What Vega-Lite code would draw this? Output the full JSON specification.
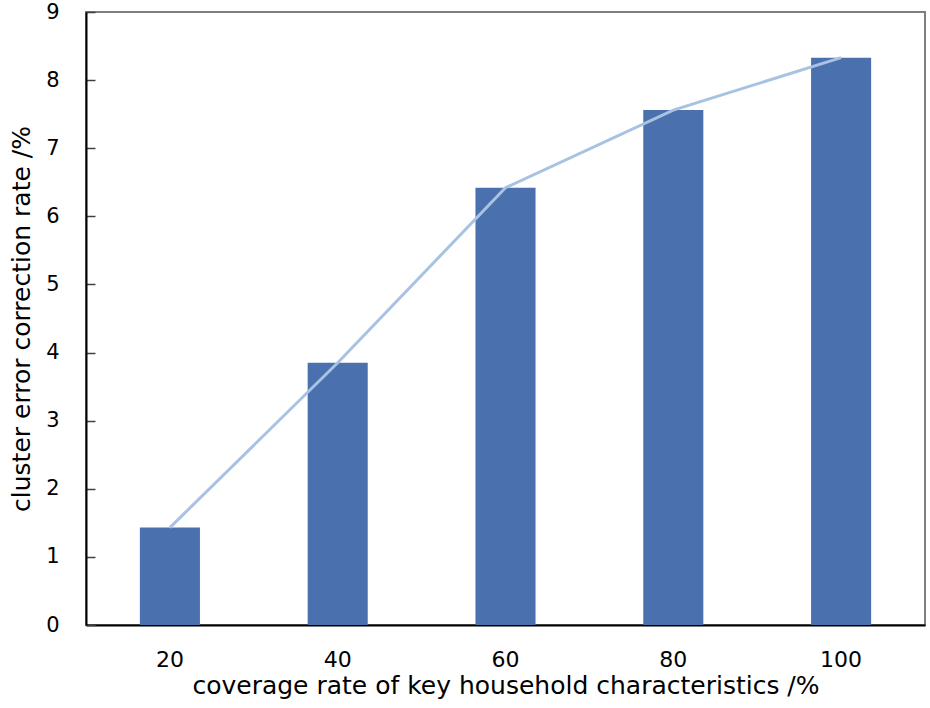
{
  "$schema": "https://vega.github.io/schema/vega-lite/v6.json",
  "width": 839,
  "height": 613,
  "autosize": {"type": "none"},
  "padding": {"left": 86, "top": 12, "right": 5, "bottom": 83},
  "background": "white",
  "config": {
    "view": {"stroke": "#7f7f7f", "strokeWidth": 2},
    "font": "DejaVu Sans"
  },
  "data": {
    "values": [
      {"coverage": "20", "rate": 1.43},
      {"coverage": "40", "rate": 3.85},
      {"coverage": "60", "rate": 6.42},
      {"coverage": "80", "rate": 7.56},
      {"coverage": "100", "rate": 8.33}
    ]
  },
  "encoding": {
    "x": {
      "field": "coverage",
      "type": "ordinal",
      "sort": null,
      "scale": {"paddingInner": 0.642, "paddingOuter": 0.321},
      "axis": {
        "title": "coverage rate of key household characteristics /%",
        "titleFont": "DejaVu Sans",
        "titleFontSize": 25,
        "titleFontWeight": "normal",
        "titleColor": "#000000",
        "titlePadding": 3,
        "labelAngle": 0,
        "labelFont": "DejaVu Sans",
        "labelFontSize": 22,
        "labelColor": "#000000",
        "labelPadding": 24,
        "ticks": false,
        "domainColor": "#000000",
        "domainWidth": 2
      }
    },
    "y": {
      "field": "rate",
      "type": "quantitative",
      "scale": {"domain": [0, 9], "nice": false},
      "axis": {
        "title": "cluster error correction rate /%",
        "titleFont": "DejaVu Sans",
        "titleFontSize": 25,
        "titleFontWeight": "normal",
        "titleColor": "#000000",
        "titlePadding": 11,
        "values": [0, 1, 2, 3, 4, 5, 6, 7, 8, 9],
        "labelFont": "DejaVu Sans",
        "labelFontSize": 21,
        "labelColor": "#000000",
        "labelPadding": 36,
        "tickSize": -9,
        "tickColor": "#404040",
        "tickWidth": 1.5,
        "grid": false,
        "domainColor": "#000000",
        "domainWidth": 2
      }
    }
  },
  "layer": [
    {"mark": {"type": "bar", "color": "#4A70AE"}},
    {"mark": {"type": "line", "color": "#A8C3E2", "strokeWidth": 3}}
  ]
}
